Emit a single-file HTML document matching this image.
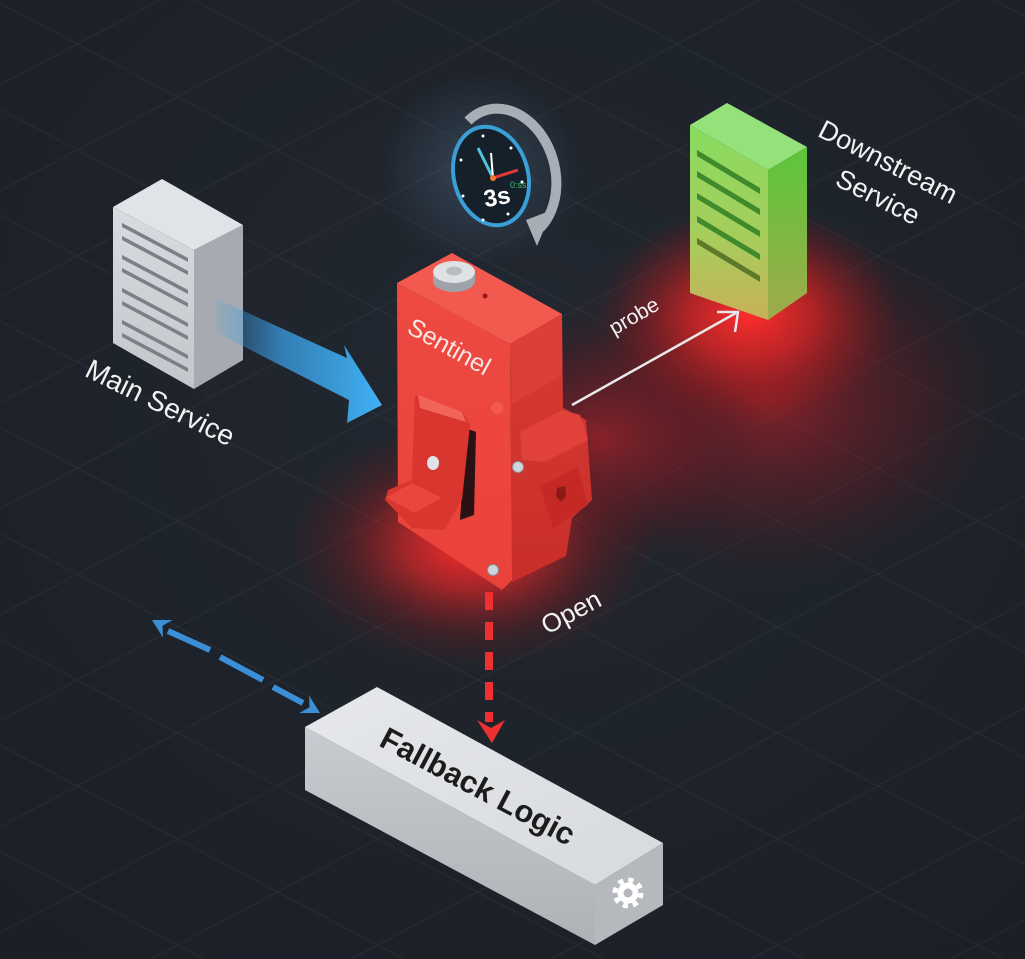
<!DOCTYPE html>
<html><head><meta charset="utf-8">
<style>
html,body{margin:0;padding:0;background:#1d222a;width:1025px;height:959px;overflow:hidden;}
svg{display:block;overflow:hidden;}
text{font-family:"Liberation Sans",sans-serif;}
</style></head><body>
<svg width="1025" height="959" viewBox="0 0 1025 959" xmlns="http://www.w3.org/2000/svg">
<defs>
 <radialGradient id="bg" cx="50%" cy="40%" r="75%">
  <stop offset="0" stop-color="#222831"/>
  <stop offset="1" stop-color="#1b1f26"/>
 </radialGradient>
 <radialGradient id="glowS" cx="0.5" cy="0.5" r="0.5">
  <stop offset="0" stop-color="#ff2c2c" stop-opacity="1"/>
  <stop offset="0.35" stop-color="#e82626" stop-opacity="0.65"/>
  <stop offset="0.7" stop-color="#a01818" stop-opacity="0.25"/>
  <stop offset="1" stop-color="#801010" stop-opacity="0"/>
 </radialGradient>
 <radialGradient id="glowD" cx="0.5" cy="0.5" r="0.5">
  <stop offset="0" stop-color="#ff2d2d" stop-opacity="1"/>
  <stop offset="0.4" stop-color="#e42626" stop-opacity="0.7"/>
  <stop offset="1" stop-color="#901515" stop-opacity="0"/>
 </radialGradient>
 <radialGradient id="glowWide" cx="0.5" cy="0.5" r="0.5">
  <stop offset="0" stop-color="#b82028" stop-opacity="0.65"/>
  <stop offset="0.6" stop-color="#6e1a22" stop-opacity="0.35"/>
  <stop offset="1" stop-color="#3a1a20" stop-opacity="0"/>
 </radialGradient>
 <radialGradient id="glowC" cx="0.5" cy="0.5" r="0.5">
  <stop offset="0" stop-color="#5a80a2" stop-opacity="0.35"/>
  <stop offset="1" stop-color="#5a80a2" stop-opacity="0"/>
 </radialGradient>
 <linearGradient id="msLeft" x1="0" y1="0" x2="0" y2="1">
  <stop offset="0" stop-color="#d8dbdf"/>
  <stop offset="1" stop-color="#c3c6cb"/>
 </linearGradient>
 <linearGradient id="blueArr" x1="215" y1="0" x2="382" y2="0" gradientUnits="userSpaceOnUse">
  <stop offset="0" stop-color="#3a9be0" stop-opacity="0.1"/>
  <stop offset="0.4" stop-color="#3a9be0" stop-opacity="0.75"/>
  <stop offset="1" stop-color="#40b2f6"/>
 </linearGradient>
 <linearGradient id="gLeft" x1="0" y1="0" x2="0" y2="1">
  <stop offset="0" stop-color="#88dc60"/>
  <stop offset="0.6" stop-color="#a8cc5c"/>
  <stop offset="1" stop-color="#c8b05a"/>
 </linearGradient>
 <linearGradient id="gRight" x1="0" y1="0" x2="0" y2="1">
  <stop offset="0" stop-color="#5cc63a"/>
  <stop offset="1" stop-color="#a0aa4c"/>
 </linearGradient>
 <linearGradient id="sFront" x1="0" y1="0" x2="0" y2="1">
  <stop offset="0" stop-color="#ee4a42"/>
  <stop offset="1" stop-color="#ea423b"/>
 </linearGradient>
 <linearGradient id="sRight" x1="0" y1="0" x2="0" y2="1">
  <stop offset="0" stop-color="#d93a33"/>
  <stop offset="1" stop-color="#c82e2a"/>
 </linearGradient>
 <linearGradient id="fbTop" x1="0" y1="0" x2="1" y2="1">
  <stop offset="0" stop-color="#e6e8eb"/>
  <stop offset="1" stop-color="#d7dadd"/>
 </linearGradient>
 <linearGradient id="fbFront" x1="0" y1="0" x2="0" y2="1">
  <stop offset="0" stop-color="#c8cbcf"/>
  <stop offset="1" stop-color="#aeb1b6"/>
 </linearGradient>
</defs>

<rect width="1025" height="959" fill="url(#bg)"/>

<!-- grid (clipped to frame) -->
<g stroke="#ffffff" stroke-opacity="0.04" stroke-width="1.5">
 <line x1="994" y1="0" x2="1025" y2="16"/>
 <line x1="794" y1="0" x2="1025" y2="122"/>
 <line x1="594" y1="0" x2="1025" y2="228"/>
 <line x1="394" y1="0" x2="1025" y2="334"/>
 <line x1="194" y1="0" x2="1025" y2="440"/>
 <line x1="0" y1="3" x2="1025" y2="546"/>
 <line x1="0" y1="109" x2="1025" y2="652"/>
 <line x1="0" y1="215" x2="1025" y2="758"/>
 <line x1="0" y1="321" x2="1025" y2="864"/>
 <line x1="0" y1="427" x2="1004" y2="959"/>
 <line x1="0" y1="533" x2="804" y2="959"/>
 <line x1="0" y1="639" x2="604" y2="959"/>
 <line x1="0" y1="745" x2="404" y2="959"/>
 <line x1="0" y1="851" x2="204" y2="959"/>
 <line x1="0" y1="85" x2="160" y2="0"/>
 <line x1="0" y1="191" x2="360" y2="0"/>
 <line x1="0" y1="297" x2="560" y2="0"/>
 <line x1="0" y1="403" x2="760" y2="0"/>
 <line x1="0" y1="509" x2="960" y2="0"/>
 <line x1="0" y1="615" x2="1025" y2="72"/>
 <line x1="0" y1="721" x2="1025" y2="178"/>
 <line x1="0" y1="827" x2="1025" y2="284"/>
 <line x1="0" y1="933" x2="1025" y2="390"/>
 <line x1="151" y1="959" x2="1025" y2="496"/>
 <line x1="351" y1="959" x2="1025" y2="602"/>
 <line x1="551" y1="959" x2="1025" y2="708"/>
 <line x1="751" y1="959" x2="1025" y2="814"/>
 <line x1="951" y1="959" x2="1025" y2="920"/>
</g>

<!-- glows -->
<ellipse cx="480" cy="170" rx="100" ry="95" fill="url(#glowC)"/>
<ellipse cx="770" cy="400" rx="250" ry="190" fill="url(#glowWide)"/>
<ellipse cx="600" cy="440" rx="160" ry="130" fill="url(#glowWide)"/>
<ellipse cx="750" cy="315" rx="150" ry="110" fill="url(#glowD)"/>
<ellipse cx="470" cy="545" rx="185" ry="125" fill="url(#glowS)"/>

<!-- Main Service server -->
<polygon points="113,207 162,179 243,225 194,250" fill="#e0e3e7"/>
<polygon points="113,207 194,250 194,389 113,343" fill="url(#msLeft)"/>
<polygon points="194,250 243,225 243,360 194,389" fill="#a7abb1"/>
<g fill="#7b8087">
 <polygon points="122,223 188,258 188,262 122,227"/>
 <polygon points="122,236 188,271 188,275 122,240"/>
 <polygon points="122,255 188,290 188,294 122,259"/>
 <polygon points="122,268 188,303 188,307 122,272"/>
 <polygon points="122,288 188,323 188,327 122,292"/>
 <polygon points="122,301 188,336 188,340 122,305"/>
 <polygon points="122,320 188,355 188,359 122,324"/>
 <polygon points="122,333 188,368 188,372 122,337"/>
</g>
<text x="160" y="412" font-size="28" fill="#f2f2f2" text-anchor="middle" transform="rotate(26 160 403)">Main Service</text>

<!-- blue arrow -->
<polygon points="215,298 347,358 344,345 382,405 347,423 349,400 215,332" fill="url(#blueArr)"/>

<!-- clock -->
<path d="M 468 121 A 46 60 -15 0 1 540 228" fill="none" stroke="#a7aeb6" stroke-width="10"/>
<polygon points="526,220 552,210 537,246" fill="#a7aeb6"/>
<ellipse cx="491" cy="176" rx="37" ry="50" transform="rotate(-15 491 176)" fill="#16202a" stroke="#3a9fd6" stroke-width="4"/>
<g fill="#ffffff">
 <circle cx="483" cy="136" r="1.5"/><circle cx="511" cy="148" r="1.5"/>
 <circle cx="522" cy="182" r="1.5"/><circle cx="508" cy="214" r="1.5"/>
 <circle cx="483" cy="220" r="1.5"/><circle cx="463" cy="196" r="1.5"/>
 <circle cx="461" cy="160" r="1.5"/>
</g>
<line x1="493" y1="178" x2="478" y2="148" stroke="#4fc3e0" stroke-width="3"/>
<line x1="493" y1="178" x2="491" y2="153" stroke="#ffffff" stroke-width="2"/>
<line x1="493" y1="178" x2="518" y2="170" stroke="#e53935" stroke-width="3"/>
<circle cx="493" cy="178" r="3" fill="#f07a30"/>
<text x="510" y="188" font-size="9" fill="#3fbf6f">0:ss</text>
<text x="497" y="205" font-size="24" font-weight="bold" fill="#ffffff" text-anchor="middle" transform="rotate(-10 497 197)">3s</text>

<!-- Downstream server -->
<polygon points="690,125 727,103 807,147 768,170" fill="#96e27a"/>
<polygon points="690,125 768,170 768,320 690,293" fill="url(#gLeft)"/>
<polygon points="768,170 807,147 807,293 768,320" fill="url(#gRight)"/>
<g fill="#3f8a2a">
 <polygon points="697,150 760,188 760,194 697,156"/>
 <polygon points="697,171 760,209 760,215 697,177"/>
 <polygon points="697,193 760,231 760,237 697,199"/>
 <polygon points="697,216 760,254 760,260 697,222"/>
 <polygon points="697,238 760,276 760,282 697,244" fill="#5c7a2a"/>
</g>
<text x="888" y="171" font-size="27" fill="#f2f2f2" text-anchor="middle" transform="rotate(27 888 162)">Downstream</text>
<text x="878" y="206" font-size="27" fill="#f2f2f2" text-anchor="middle" transform="rotate(27 878 197)">Service</text>

<!-- probe arrow -->
<line x1="572" y1="405" x2="736" y2="313" stroke="#e8e8ea" stroke-width="2.5"/>
<polyline points="717,312 738,312 735,332" fill="none" stroke="#e8e8ea" stroke-width="2.5"/>
<text x="634" y="323" font-size="21" fill="#f0f0f0" text-anchor="middle" transform="rotate(-30 634 316)">probe</text>

<!-- Sentinel -->
<polygon points="510,344 562,314 563,408 586,420 592,500 572,518 566,556 512,582" fill="url(#sRight)"/>
<polygon points="397,283 510,344 512,580 502,590 398,522" fill="url(#sFront)"/>
<polygon points="397,283 452,253 562,314 510,344" fill="#f2594f"/>
<polygon points="510,344 562,314 562,375 512,404" fill="#dc3f37"/>
<path d="M433 272 L433 281 A21 11 0 0 0 475 281 L475 272 Z" fill="#9ea3a9"/>
<ellipse cx="454" cy="272" rx="21" ry="11" fill="#dfe2e5"/>
<ellipse cx="454" cy="271" rx="8" ry="4.5" fill="#b8bcc1"/>
<circle cx="485" cy="296" r="2.5" fill="#8e1b1b"/>
<text x="449" y="355" font-size="25" fill="#f6e6e4" text-anchor="middle" transform="rotate(29 449 347)">Sentinel</text>
<circle cx="497" cy="408" r="6" fill="#f25a50"/>
<!-- slot -->
<polygon points="466,428 476,432 474,515 460,520" fill="#2a1214"/>
<!-- lever -->
<polygon points="415,395 463,412 470,425 462,500 444,530 412,528 385,500 388,490 412,480" fill="#d93630"/>
<polygon points="418,395 462,412 466,422 420,408" fill="#f0645a"/>
<polygon points="386,497 412,483 442,498 414,513" fill="#e8463e"/>
<ellipse cx="433" cy="463" rx="6" ry="7" fill="#dfe3e8"/>
<!-- right switch -->
<polygon points="520,432 562,410 580,415 588,440 545,462 522,460" fill="#e0413a"/>
<polygon points="540,487 578,467 588,505 553,528" fill="#c42925"/>
<polygon points="557,488 565,486 566,496 561,502 556,496" fill="#8a1a18"/>
<circle cx="518" cy="467" r="5.5" fill="#d0d5dc" stroke="#8a8f96" stroke-width="1"/>
<circle cx="493" cy="570" r="5.5" fill="#d0d5dc" stroke="#8a8f96" stroke-width="1"/>

<!-- Open label -->
<text x="571" y="621" font-size="26" fill="#f2f2f2" text-anchor="middle" transform="rotate(-28 571 612)">Open</text>

<!-- red dashed arrow -->
<line x1="489" y1="592" x2="489" y2="722" stroke="#ee3030" stroke-width="8" stroke-dasharray="18 12"/>
<polygon points="477,720 491,728 505,720 492,743" fill="#ee3030"/>

<!-- blue dashed double arrow -->
<g stroke="#3b8fd6" stroke-width="6" stroke-linecap="butt">
 <line x1="168" y1="631" x2="210" y2="650"/>
 <line x1="220" y1="657" x2="263" y2="680"/>
 <line x1="273" y1="687" x2="303" y2="703"/>
</g>
<polygon points="152,620 172.6,620 162.5,625.8 162.9,637.4" fill="#3b8fd6"/>
<polygon points="320,713 299.4,713 309.5,707.2 309.1,695.6" fill="#3b8fd6"/>

<!-- Fallback Logic box -->
<polygon points="305,727 595,885 595,945 305,790" fill="url(#fbFront)"/>
<polygon points="595,885 663,843 663,905 595,945" fill="#b5b8bd"/>
<polygon points="377,687 663,843 595,885 305,727" fill="url(#fbTop)"/>
<text x="478" y="797" font-size="31" font-weight="bold" fill="#1c1c1c" text-anchor="middle" transform="rotate(28 478 786)">Fallback Logic</text>
<g transform="translate(628 893)">
 <circle r="13" fill="none" stroke="#ffffff" stroke-width="5" stroke-dasharray="5.1 5.1"/>
 <circle r="10.5" fill="#ffffff"/>
 <circle r="4.5" fill="#b5b8bd"/>
</g>
</svg>
</body></html>
